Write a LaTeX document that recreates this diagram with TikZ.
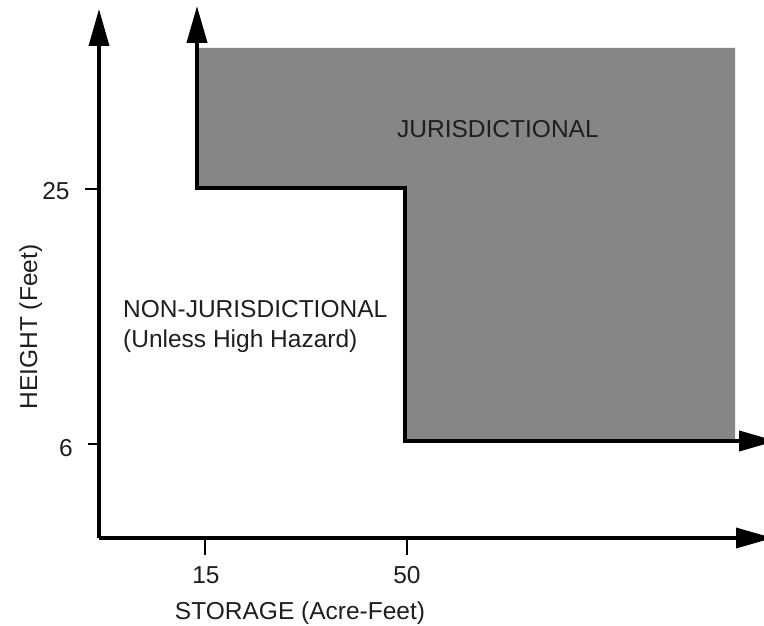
\documentclass[tikz,border=0pt]{standalone}
\usepackage{fontspec}
\setmainfont{Liberation Sans}
\usetikzlibrary{arrows.meta}
\definecolor{zonegray}{RGB}{134,134,134}
\definecolor{inkcol}{RGB}{30,30,30}
\begin{document}
\begin{tikzpicture}[x=1pt,y=-1pt,
  lbl/.style={font=\fontsize{24.5}{30}\selectfont, text=inkcol, inner sep=0pt},
  axisline/.style={line width=3.5pt, black},
  bigtip/.style={-{Triangle[length=37pt,width=20pt]}},
  tick/.style={line width=2pt, black}]
\useasboundingbox (0,0) rectangle (764,626);
% key coordinates
\coordinate (O) at (99,538);
\coordinate (ytop) at (99,9);
\coordinate (xend) at (773,538);
\coordinate (stepTop) at (197,6);
\coordinate (c25) at (197,188);
\coordinate (c50) at (405,188);
\coordinate (c6) at (405,441);
\coordinate (stepEnd) at (776,441);
% gray region
\fill[zonegray] (197,48) -- (735,48) -- (735,441) -- (405,441) -- (405,188) -- (197,188) -- cycle;
% axes
\draw[axisline,bigtip] (O) -- (ytop);
\draw[axisline,bigtip] (O) -- (xend);
% step boundary
\draw[axisline,line width=4pt,{Triangle[length=37pt,width=20pt]}-{Triangle[length=37pt,width=20pt]},line join=miter] (stepTop) -- (c25) -- (c50) -- (c6) -- (stepEnd);
% ticks
\draw[tick] (85,189) -- (99,189);
\draw[tick] (88,444) -- (99,444);
\draw[tick] (205,538) -- (205,555);
\draw[tick] (407,538) -- (407,555);
% tick labels
\node[lbl] (l25) at (56,191) {25};
\node[lbl] (l6) at (66,448) {6};
\node[lbl] (l15) at (206,575) {15};
\node[lbl] (l50) at (407,575) {50};
% axis titles
\node[lbl,anchor=base] (xt) at (300,619) {STORAGE (Acre-Feet)};
\node[lbl,anchor=base,rotate=90] (yt) at (37,327) {HEIGHT (Feet)};
% region labels
\node[lbl,anchor=base west] (jur) at (397,138) {JURISDICTIONAL};
\node[lbl,anchor=base west,align=left] (nonjur) at (123,347) {NON-JURISDICTIONAL\\(Unless High Hazard)};
\end{tikzpicture}
\end{document}
